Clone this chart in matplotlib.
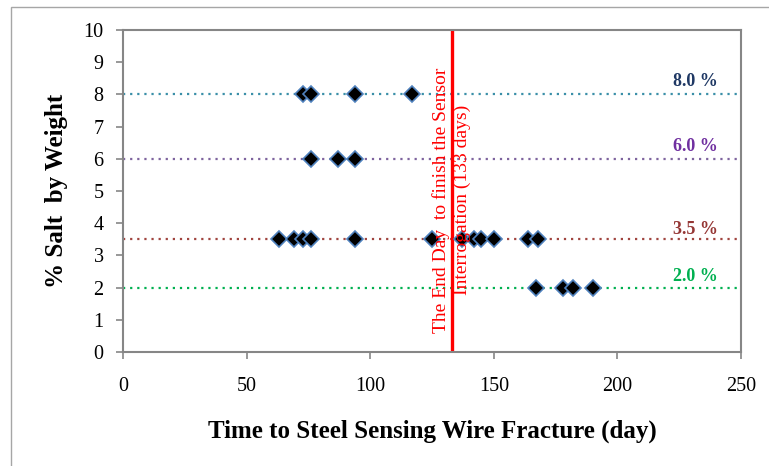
import matplotlib
matplotlib.use("Agg")
import matplotlib.pyplot as plt
from matplotlib.patches import Rectangle

plt.rcParams["font.family"] = ["Liberation Serif", "DejaVu Serif"]

# Salt concentrations (% by weight) and fracture days for each specimen
salt_levels = [8.0, 6.0, 3.5, 2.0]
salt_labels = ["8.0 %", "6.0 %", "3.5 %", "2.0 %"]
days_8 = [73, 76, 94, 117]
days_6 = [76, 87, 94]
days_35 = [63, 69, 73, 76, 94, 125, 137, 142, 145, 150, 164, 168]
days_2 = [167, 178, 182, 190]
end_day = 133

line_colors = ["#3A8FA8", "#7E649E", "#A0443F", "#00B050"]
label_colors = ["#1F3864", "#7030A0", "#953735", "#00B050"]
label_dy = [0.14, 0.12, 0.03, 0.08]

fig = plt.figure(figsize=(7.69, 4.66), dpi=100)
ax = fig.add_axes([0.16, 0.2446, 0.8036, 0.691])

# outer chart frame
fig.patches.append(Rectangle((11 / 769, -0.1), 1.2, 1 - 7 / 466 + 0.1,
                             transform=fig.transFigure, fill=False,
                             edgecolor="#A6A6A6", linewidth=1.0))

series = [days_8, days_6, days_35, days_2]
for lvl, days, lc, lab, tc, dy in zip(salt_levels, series, line_colors,
                                      salt_labels, label_colors, label_dy):
    ax.plot([0, 250], [lvl, lvl], linestyle=(0, (1, 2.2)), color=lc,
            linewidth=1.6, zorder=1)
    ax.plot(days, [lvl] * len(days), linestyle="none", marker="D",
            markersize=8.2, markerfacecolor="black",
            markeredgecolor="#4F81BD", markeredgewidth=1.2, zorder=3)
    ax.text(231.5, lvl + dy, lab, color=tc, fontsize=13, fontweight="bold",
            ha="center", va="bottom", zorder=4)

ax.plot([end_day, end_day], [0, 10], color="#FF0000", linewidth=2.4, zorder=2)
ax.text(end_day, 4.72,
        "The End Day  to finish the Sensor\nInterrogation (133 days)",
        rotation=90, color="#FF0000", fontsize=14, ha="center", va="center",
        multialignment="center", linespacing=1.25, zorder=5)

ax.set_xlim(0, 250)
ax.set_ylim(0, 10)
ax.set_xticks(range(0, 251, 50))
ax.set_yticks(range(0, 11))
for sp in ax.spines.values():
    sp.set_color("#868686")
    sp.set_linewidth(1.5)
ax.tick_params(axis="both", direction="out", length=5, width=1.2,
               color="#868686", labelsize=14.5)
ax.tick_params(axis="x", pad=13)
ax.tick_params(axis="y", pad=9)

ax.set_xlabel("Time to Steel Sensing Wire Fracture (day)", fontsize=18,
              fontweight="bold", labelpad=17)
ax.set_ylabel("% Salt  by Weight", fontsize=18, fontweight="bold",
              labelpad=11)

fig.savefig("out.png", dpi=100)
